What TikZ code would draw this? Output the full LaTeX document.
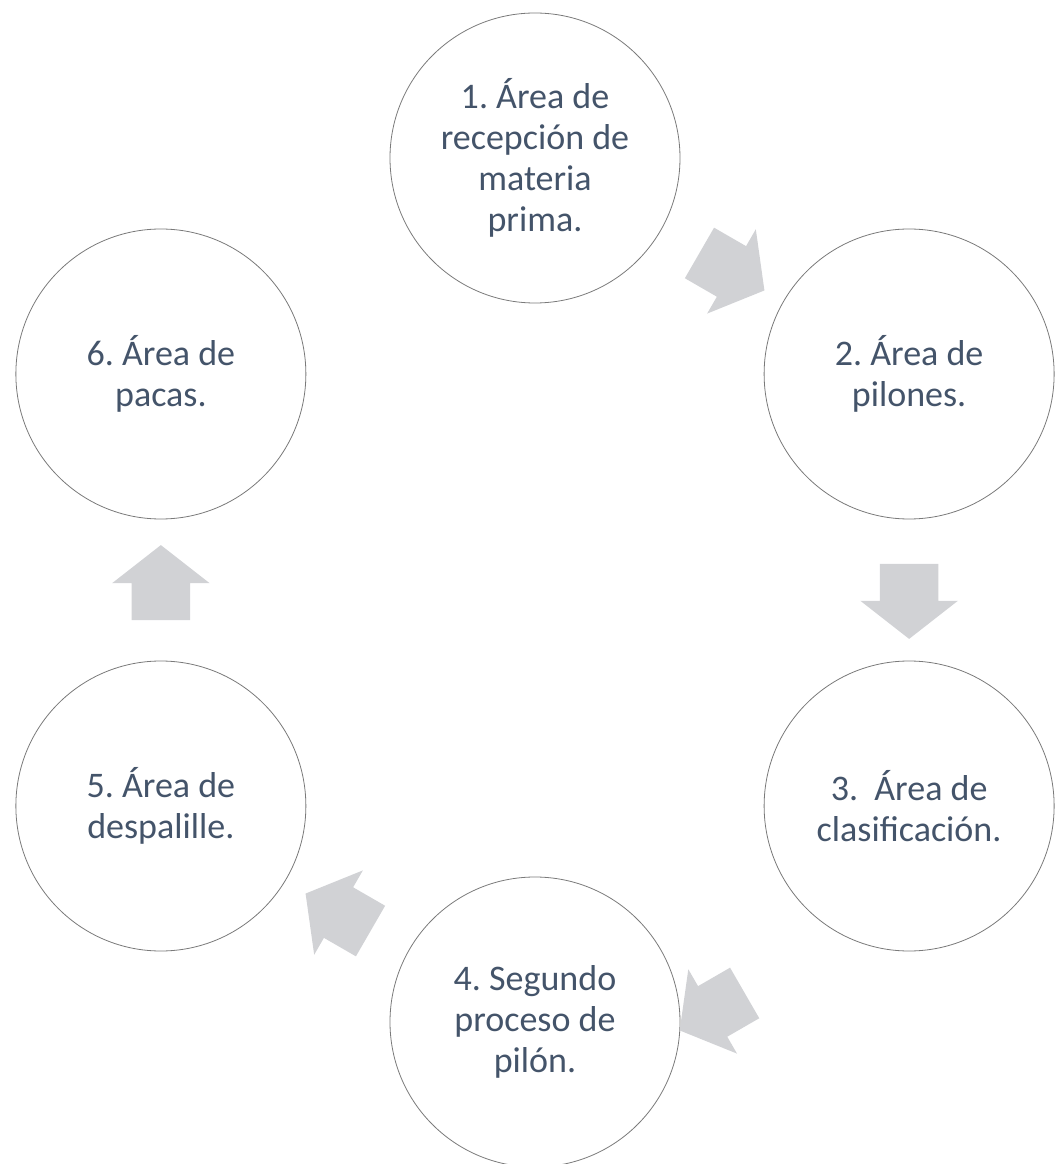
\documentclass[tikz,border=0pt]{standalone}
\usepackage{fontspec}
\newfontfamily\stepfont{Carlito}
\usepackage{tikz}
\usetikzlibrary{shapes,shapes.arrows,calc}
\frenchspacing

\definecolor{steptext}{HTML}{44546A}
\definecolor{ringline}{HTML}{7A7A7A}
\definecolor{arrowfill}{HTML}{D1D2D5}

\begin{document}
\begin{tikzpicture}[x=1pt,y=1pt]
\tikzstyle{area} = [circle, draw=ringline, line width=0.8pt, fill=white, minimum size=290pt, inner sep=0pt, outer sep=0pt, align=center, text=steptext, font=\stepfont\fontsize{36}{41}\selectfont];%
\tikzstyle{blockarrow} = [single arrow, draw=none, fill=arrowfill, minimum height=75pt, inner xsep=0pt, inner ysep=29pt, outer sep=0pt, single arrow head extend=19.5pt, single arrow tip angle=104];%

\useasboundingbox (-535,-574) rectangle (520,590);

\node at (90:432)   [area] (recepcion) {1. Área de\\recepción de\\materia\\prima.};
\node at (30:432)   [area] (pilones) {2. Área de\\pilones.};
\node at (-30:432)  [area] (clasif) {3.\ \ Área de\\clasificación.};
\node at (-90:432)  [area] (segundo) {4. Segundo\\proceso de\\pilón.};
\node at (-150:432) [area] (despal) {5. Área de\\despalille.};
\node at (150:432)  [area] (pacas) {6. Área de\\pacas.};

\node at ($(recepcion)!0.5!(pilones)$) [blockarrow, rotate=-30] (a12) {};
\node at ($(pilones)!0.5!(clasif)$) [blockarrow, rotate=-90] (a23) {};
\node at ($(clasif)!0.5!(segundo)+(0,-92)$) [blockarrow, rotate=-150] (a34) {};
\node at ($(segundo)!0.5!(despal)+(0,-4)$) [blockarrow, rotate=150] (a45) {};
\node at ($(despal)!0.5!(pacas)+(0,-4)$) [blockarrow, rotate=90] (a56) {};

\end{tikzpicture}
\end{document}
